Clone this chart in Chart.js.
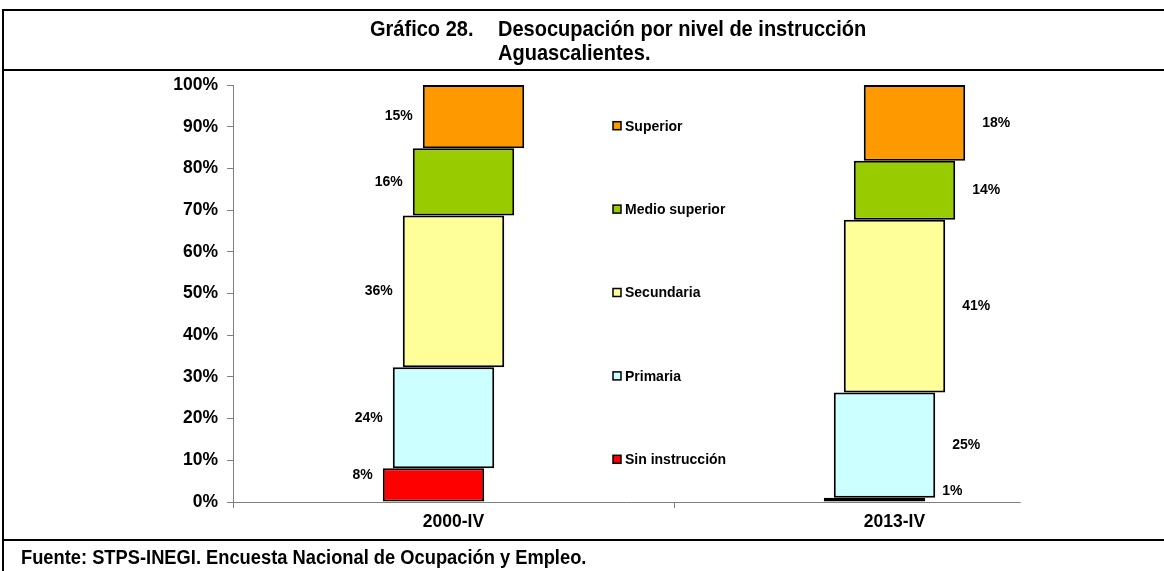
<!DOCTYPE html>
<html lang="es">
<head>
<meta charset="utf-8">
<script src="https://cdn.jsdelivr.net/npm/chart.js@4.4.1/dist/chart.umd.min.js"></script>
<style>
    html, body { margin: 0; padding: 0; background: #fff; }
    #page { position: relative; width: 1164px; height: 571px; overflow: hidden; }
    #page canvas { position: absolute; left: 0; top: 0; }
    .rule { position: absolute; background: #000; }
    .narrow { position: absolute; white-space: nowrap; color: #000; font-weight: bold;
              font-family: "Liberation Sans", Arial, sans-serif; transform-origin: left top; }
    .title { font-size: 22px; line-height: 24px; transform: scaleX(0.91); }
    .note { font-size: 20px; line-height: 22px; transform: scaleX(0.915); }
</style>
</head>
<body>
<div id="page">
    <canvas id="chart" width="1164" height="571"></canvas>
    <div class="rule" style="left:2px; top:9px; width:1162px; height:2px;"></div>
    <div class="rule" style="left:2px; top:9px; width:2px; height:562px;"></div>
    <div class="rule" style="left:2px; top:69px; width:1162px; height:2px;"></div>
    <div class="rule" style="left:2px; top:539px; width:1162px; height:2px;"></div>
    <div class="narrow title" style="left:370px; top:17px;">Gráfico 28.</div>
    <div class="narrow title" style="left:498px; top:17px;">Desocupación por nivel de instrucción</div>
    <div class="narrow title" style="left:498px; top:41px;">Aguascalientes.</div>
    <div class="narrow note" style="left:21px; top:546px;">Fuente: STPS-INEGI. Encuesta Nacional de Ocupación y Empleo.</div>
</div>
<script>
    // periods on the x axis
    const categories = ['2000-IV', '2013-IV'];

    // levels, bottom of the stack first
    const levels = ['Sin instrucción', 'Primaria', 'Secundaria', 'Medio superior', 'Superior'];
    const levelColors = ['#FF0000', '#CCFFFF', '#FFFF99', '#99CC00', '#FF9900'];

    // shares (%) as printed on the chart
    const sinInstruccion = [8, 1];
    const primaria = [24, 25];
    const secundaria = [36, 41];
    const medioSuperior = [16, 14];
    const superior = [15, 18];

    const yTickStep = 10;
    const DEPTH_STEP = 10; // px each level is pushed right, like the excel original

    const series = [sinInstruccion, primaria, secundaria, medioSuperior, superior];
    const totals = categories.map((c, j) => series.reduce((s, arr) => s + arr[j], 0));

    const datasets = series.map((values, i) => ({
        label: levels[i],
        raw: values,
        data: values.map((v, j) => v / totals[j] * 100),
        backgroundColor: levelColors[i],
        borderColor: '#000',
        borderWidth: 2,
        borderSkipped: false,
        barPercentage: 0.23,
        categoryPercentage: 1
    }));

    const axisFont = {family: '"Liberation Sans", Arial, sans-serif', size: 17.5, weight: 'bold'};
    const labelFont = 'bold 14px "Liberation Sans", Arial, sans-serif';

    const depthShift = {
        id: 'depthShift',
        afterDatasetsUpdate(chart) {
            const mid = (chart.data.datasets.length - 1) / 2;
            chart.data.datasets.forEach((ds, i) => {
                chart.getDatasetMeta(i).data.forEach(bar => {
                    bar.x += (i - mid) * DEPTH_STEP;
                });
            });
        }
    };

    const baseLine = {
        id: 'baseLine',
        beforeDatasetsDraw(chart) {
            const {ctx, chartArea} = chart;
            ctx.save();
            ctx.strokeStyle = '#7f7f7f';
            ctx.lineWidth = 1;
            ctx.beginPath();
            ctx.moveTo(chartArea.left, chartArea.bottom + 0.5);
            ctx.lineTo(chartArea.left + chartArea.width * 0.893, chartArea.bottom + 0.5);
            ctx.stroke();
            ctx.restore();
        }
    };

    const valueLabels = {
        id: 'valueLabels',
        afterDatasetsDraw(chart) {
            const ctx = chart.ctx;
            ctx.save();
            ctx.font = labelFont;
            ctx.fillStyle = '#000';
            ctx.textBaseline = 'middle';
            chart.data.datasets.forEach((ds, i) => {
                chart.getDatasetMeta(i).data.forEach((bar, j) => {
                    const {x, y, base, width} = bar.getProps(['x', 'y', 'base', 'width'], true);
                    let ly = (y + base) / 2;
                    if (base - y < 40) {
                        ly = Math.min(y + 7, base - 10);
                    }
                    const text = ds.raw[j] + '%';
                    if (j === 0) {
                        ctx.textAlign = 'right';
                        ctx.fillText(text, x - width / 2 - 10, ly);
                    } else {
                        ctx.textAlign = 'left';
                        ctx.fillText(text, x + width / 2 + 17, ly);
                    }
                });
            });
            ctx.restore();
        }
    };

    // legend sits between the two bars, one entry per fifth of the plot height
    const middleLegend = {
        id: 'middleLegend',
        afterDraw(chart) {
            const {ctx, chartArea, scales} = chart;
            const n = chart.data.datasets.length;
            const step = (chartArea.bottom - chartArea.top) / n;
            const between = (scales.x.getPixelForValue(0) + scales.x.getPixelForValue(1)) / 2;
            const boxX = between - 61;
            ctx.save();
            ctx.font = labelFont;
            ctx.textBaseline = 'middle';
            ctx.textAlign = 'left';
            for (let k = 0; k < n; k++) {
                const ds = chart.data.datasets[n - 1 - k];
                const cy = chartArea.top + (k + 0.5) * step - 1;
                ctx.fillStyle = ds.backgroundColor;
                ctx.fillRect(boxX, cy - 4, 8, 8);
                ctx.strokeStyle = '#000';
                ctx.lineWidth = 1.5;
                ctx.strokeRect(boxX, cy - 4, 8, 8);
                ctx.fillStyle = '#000';
                ctx.fillText(ds.label, boxX + 12, cy + 1);
            }
            ctx.restore();
        }
    };

    new Chart(document.getElementById('chart').getContext('2d'), {
        type: 'bar',
        data: {
            labels: categories,
            datasets
        },
        options: {
            responsive: false,
            animation: false,
            layout: {
                padding: {left: 167, right: 49, top: 85, bottom: 34}
            },
            plugins: {
                legend: {display: false},
                tooltip: {enabled: false}
            },
            scales: {
                x: {
                    stacked: true,
                    offset: true,
                    border: {display: false},
                    grid: {
                        offset: true,
                        drawOnChartArea: false,
                        tickLength: 6,
                        // the closing tick past the last bar is cut off in the original
                        color: ctx => ctx.tick ? '#7f7f7f' : 'rgba(0,0,0,0)'
                    },
                    ticks: {color: '#000', font: axisFont, padding: 4},
                    afterFit: scale => { scale.height = 35; }
                },
                y: {
                    stacked: true,
                    min: 0,
                    max: 100,
                    border: {display: true, color: '#7f7f7f', width: 1},
                    grid: {drawOnChartArea: false, tickLength: 6, color: '#7f7f7f'},
                    ticks: {
                        stepSize: yTickStep,
                        color: '#000',
                        font: axisFont,
                        padding: 9,
                        callback: v => v + '%'
                    },
                    afterFit: scale => { scale.width = 66; }
                }
            }
        },
        plugins: [depthShift, baseLine, valueLabels, middleLegend]
    });
</script>
</body>
</html>
